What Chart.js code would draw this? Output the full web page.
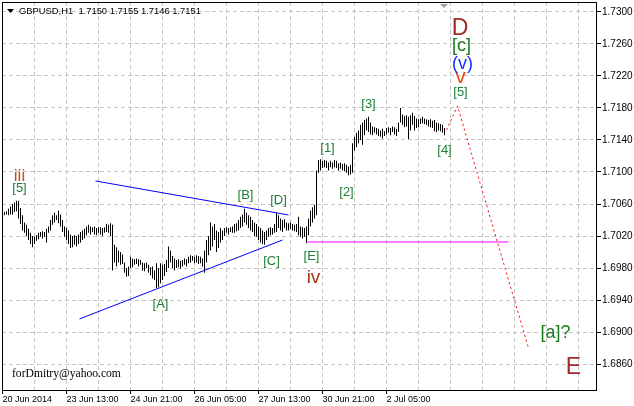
<!DOCTYPE html>
<html>
<head>
<meta charset="utf-8">
<script src="https://cdn.jsdelivr.net/npm/chart.js@4"></script>
<style>
html,body{margin:0;padding:0;background:#fff;}
canvas{display:block;}
</style>
</head>
<body>
<canvas id="c" width="634" height="406"></canvas>
<script>
// ---- Data (GBPUSD H1 bar highs/lows, oldest first) ----
const barHighs = [
1.7050,1.7051,1.7054,1.7057,1.7060,1.7062,1.7064,1.7064,1.7055,1.7046,
1.7037,1.7034,1.7029,1.7024,1.7020,1.7019,1.7021,1.7024,1.7025,1.7026,
1.7025,1.7029,1.7032,1.7040,1.7046,1.7049,1.7046,1.7052,1.7047,1.7040,
1.7032,1.7030,1.7027,1.7022,1.7020,1.7021,1.7020,1.7022,1.7025,1.7027,
1.7029,1.7032,1.7034,1.7032,1.7031,1.7032,1.7030,1.7031,1.7031,1.7030,
1.7031,1.7035,1.7034,1.7036,1.7034,1.7009,1.7006,1.7002,1.7000,1.6997,
1.6987,1.6980,1.6982,1.6994,1.6992,1.6991,1.6992,1.6991,1.6990,1.6987,
1.6986,1.6987,1.6984,1.6981,1.6982,1.6977,1.6986,1.6980,1.6986,1.6984,
1.6985,1.6990,1.7007,1.7002,1.6995,1.6992,1.6990,1.6991,1.6989,1.6990,
1.6992,1.6991,1.6994,1.6996,1.6995,1.6994,1.6996,1.6995,1.6994,1.6992,
1.7002,1.7015,1.7020,1.7037,1.7032,1.7035,1.7027,1.7025,1.7030,1.7027,
1.7030,1.7031,1.7030,1.7031,1.7032,1.7035,1.7036,1.7040,1.7044,1.7047,
1.7054,1.7049,1.7046,1.7044,1.7040,1.7037,1.7035,1.7032,1.7030,1.7027,
1.7025,1.7027,1.7030,1.7031,1.7030,1.7035,1.7049,1.7046,1.7042,1.7040,
1.7041,1.7037,1.7036,1.7037,1.7035,1.7034,1.7035,1.7044,1.7032,1.7031,
1.7030,1.7032,1.7042,1.7052,1.7056,1.7059,1.7102,1.7115,1.7116,1.7114,
1.7115,1.7114,1.7112,1.7114,1.7112,1.7115,1.7114,1.7111,1.7112,1.7110,
1.7111,1.7109,1.7107,1.7109,1.7136,1.7144,1.7149,1.7152,1.7159,1.7162,
1.7165,1.7167,1.7169,1.7162,1.7157,1.7156,1.7155,1.7154,1.7152,1.7154,
1.7151,1.7155,1.7156,1.7155,1.7157,1.7156,1.7154,1.7162,1.7180,1.7172,
1.7170,1.7171,1.7169,1.7171,1.7174,1.7170,1.7167,1.7166,1.7167,1.7169,
1.7167,1.7166,1.7165,1.7166,1.7164,1.7165,1.7162,1.7161,1.7160,1.7159,1.7155
];
const barLows = [
1.7046,1.7047,1.7046,1.7047,1.7047,1.7050,1.7051,1.7042,1.7035,1.7027,
1.7024,1.7020,1.7015,1.7010,1.7006,1.7010,1.7014,1.7016,1.7019,1.7017,
1.7019,1.7012,1.7024,1.7027,1.7034,1.7037,1.7040,1.7036,1.7032,1.7025,
1.7019,1.7015,1.7010,1.7005,1.7006,1.7009,1.7007,1.7010,1.7012,1.7015,
1.7017,1.7021,1.7024,1.7022,1.7025,1.7022,1.7021,1.7024,1.7022,1.7020,
1.7024,1.7025,1.7024,1.7020,1.6977,1.6987,1.6982,1.6987,1.6984,1.6985,
1.6974,1.6969,1.6970,1.6980,1.6981,1.6984,1.6985,1.6982,1.6984,1.6977,
1.6976,1.6980,1.6974,1.6971,1.6967,1.6965,1.6955,1.6956,1.6961,1.6965,
1.6970,1.6975,1.6980,1.6987,1.6980,1.6977,1.6980,1.6981,1.6979,1.6982,
1.6984,1.6982,1.6986,1.6987,1.6989,1.6986,1.6987,1.6985,1.6986,1.6982,
1.6974,1.6987,1.6996,1.7002,1.7007,1.7015,1.7000,1.7005,1.7012,1.7015,
1.7020,1.7024,1.7022,1.7025,1.7024,1.7024,1.7026,1.7027,1.7030,1.7032,
1.7037,1.7034,1.7030,1.7027,1.7025,1.7020,1.7019,1.7015,1.7012,1.7010,
1.7009,1.7015,1.7019,1.7021,1.7022,1.7024,1.7025,1.7030,1.7027,1.7025,
1.7030,1.7027,1.7027,1.7029,1.7027,1.7026,1.7025,1.7021,1.7019,1.7017,
1.7019,1.7011,1.7021,1.7032,1.7037,1.7042,1.7046,1.7099,1.7102,1.7105,
1.7106,1.7105,1.7102,1.7106,1.7104,1.7106,1.7105,1.7102,1.7104,1.7102,
1.7101,1.7099,1.7096,1.7097,1.7099,1.7127,1.7131,1.7136,1.7140,1.7134,
1.7146,1.7152,1.7150,1.7147,1.7146,1.7149,1.7147,1.7145,1.7144,1.7142,
1.7145,1.7147,1.7149,1.7146,1.7150,1.7147,1.7145,1.7150,1.7162,1.7159,
1.7156,1.7157,1.7141,1.7152,1.7159,1.7152,1.7155,1.7156,1.7160,1.7161,
1.7160,1.7159,1.7157,1.7156,1.7155,1.7151,1.7150,1.7152,1.7151,1.7149,1.7146
];

// time-axis tick labels (bar index -> text)
const timeTickIndex = [0, 32, 64, 96, 128, 160, 192];
const timeTickLabels = ["20 Jun 2014","23 Jun 13:00","24 Jun 21:00","26 Jun 05:00","27 Jun 13:00","30 Jun 21:00","2 Jul 05:00"];
const priceTicks = [1.6860,1.6900,1.6940,1.6980,1.7020,1.7060,1.7100,1.7140,1.7180,1.7220,1.7260,1.7300];

// drawn objects (bar index, price)
const triangleUpper = [{x:46.5, y:1.70888},{x:143, y:1.70463}];
const triangleLower = [{x:38.5, y:1.69163},{x:140, y:1.70150}];
const levelLine     = [{x:152.5, y:1.70125},{x:253, y:1.70125}];
const forecastPath  = [{x:222, y:1.71525},{x:227.5, y:1.71825},{x:263, y:1.68800}];

const waveText  = ["iii","[5]","[A]","[B]","[C]","[D]","[E]","iv","[1]","[2]","[3]","[4]","[5]","v","(v)","[c]","D","[a]?","E"];
const waveIndex = [8.5, 8.5, 79, 121.5, 134.5, 138, 154.5, 155.5, 162.5, 172, 183, 221, 229, 229, 230, 229.5, 228.8, 276.5, 285.5];
const wavePrice = [1.70945,1.70790,1.69340,1.70710,1.69880,1.70650,1.69940,1.69680,1.71290,1.70750,1.71850,1.71270,1.71990,1.72190,1.72350,1.72570,1.72790,1.68990,1.68560];

const titleText = "GBPUSD,H1  1.7150 1.7155 1.7146 1.7151";
const watermark = "forDmitry@yahoo.com";

// ---- styles ----
const GREEN = "#1d7f36";
const waveStyle = {
  "iii": {c:"#c8501e", f:"17px 'Liberation Sans'"},
  "iv":  {c:"#a8321e", f:"19px 'Liberation Sans'"},
  "v":   {c:"#e04a18", f:"21px 'Liberation Sans'"},
  "(v)": {c:"#1030ff", f:"18px 'Liberation Sans'"},
  "[c]": {c:"#1a7a1a", f:"18px 'Liberation Sans'"},
  "D":   {c:"#a52a2a", f:"23px 'Liberation Sans'"},
  "E":   {c:"#a52a2a", f:"23px 'Liberation Sans'"},
  "[a]?":{c:"#1a7a1a", f:"18px 'Liberation Sans'"}
};

const bars = barHighs.map((h, k) => ({x: k + 1, y: [barLows[k], h]}));

const overlay = {
  id: 'overlay',
  afterDatasetsDraw(chart) {
    const {ctx, chartArea: a, scales: {x, y}} = chart;
    ctx.save();
    ctx.textAlign = 'center';
    ctx.textBaseline = 'middle';
    waveText.forEach((t, k) => {
      const st = waveStyle[t] ? waveStyle[t] : {c: GREEN, f: "13px 'Liberation Sans'"};
      ctx.fillStyle = st.c;
      ctx.font = st.f;
      ctx.fillText(t, x.getPixelForValue(waveIndex[k]), y.getPixelForValue(wavePrice[k]));
    });
    // title
    ctx.textAlign = 'left';
    ctx.fillStyle = '#000';
    ctx.font = "9.4px 'Liberation Sans'";
    ctx.fillText(titleText, a.left + 17, a.top + 9);
    ctx.beginPath();
    ctx.moveTo(a.left + 5, a.top + 7); ctx.lineTo(a.left + 12, a.top + 7); ctx.lineTo(a.left + 8.5, a.top + 11);
    ctx.closePath(); ctx.fill();
    // chart shift marker
    ctx.fillStyle = '#a0a0a0';
    ctx.beginPath();
    ctx.moveTo(440, a.top + 2); ctx.lineTo(448, a.top + 2); ctx.lineTo(444, a.top + 6);
    ctx.closePath(); ctx.fill();
    // watermark
    ctx.fillStyle = '#000';
    ctx.font = "11.6px 'Liberation Serif'";
    ctx.fillText(watermark, a.left + 10, a.bottom - 16);
    // frame
    ctx.strokeStyle = '#000';
    ctx.lineWidth = 1;
    ctx.strokeRect(a.left + 0.5, a.top + 0.5, a.right - a.left - 1, a.bottom - a.top);
    ctx.restore();
  }
};

const xTickVals = [];
for (let v = 0; v <= 288; v += 16) xTickVals.push(v);

new Chart(document.getElementById('c'), {
  type: 'bar',
  data: {
    datasets: [
      {type:'line', data: triangleUpper, borderColor:'#0000ff', borderWidth:1, pointRadius:0, tension:0, order:1},
      {type:'line', data: triangleLower, borderColor:'#0000ff', borderWidth:1, pointRadius:0, tension:0, order:1},
      {type:'line', data: levelLine, borderColor:'#ff00ff', borderWidth:1, pointRadius:0, tension:0, order:1},
      {type:'line', data: forecastPath, borderColor:'#ff0000', borderWidth:1, borderDash:[2,3], pointRadius:0, tension:0, order:1},
      {type:'bar', data: bars, backgroundColor:'#000', borderWidth:0, barThickness:1, inflateAmount:0, grouped:false, order:2}
    ]
  },
  options: {
    responsive: false,
    animation: false,
    devicePixelRatio: 1,
    layout: {padding: {left: 2, top: 2, right: 0, bottom: 0}},
    plugins: {legend: {display: false}, tooltip: {enabled: false}, title: {display: false}},
    scales: {
      x: {
        type: 'linear', min: -0.25, max: 297.25, offset: false,
        afterBuildTicks: s => { s.ticks = xTickVals.map(v => ({value: v})); },
        afterFit: s => { s.height = 16; s.paddingLeft = 0; s.paddingRight = 0; },
        ticks: {
          autoSkip: false, maxRotation: 0, minRotation: 0, align: 'start', padding: 0,
          color: '#000', font: {family: "'Liberation Sans'", size: 9},
          callback: v => { const k = timeTickIndex.indexOf(v); return k >= 0 ? timeTickLabels[k] : ''; }
        },
        grid: {
          offset: false, color: '#c4c4c4', lineWidth: 1, tickLength: 4, tickBorderDash: [],
          tickColor: c => (c.tick && timeTickIndex.indexOf(c.tick.value) >= 0) ? '#000' : 'rgba(0,0,0,0)'
        },
        border: {display: false, dash: [4, 3]}
      },
      y: {
        type: 'linear', position: 'right', min: 1.68275, max: 1.73125,
        afterBuildTicks: s => { s.ticks = priceTicks.map(v => ({value: v})); },
        afterFit: s => { s.width = 37; s.paddingTop = 0; s.paddingBottom = 0; },
        ticks: {
          padding: 1, color: '#000', font: {family: "'Liberation Sans'", size: 10},
          callback: v => Number(v).toFixed(4)
        },
        grid: {color: '#c4c4c4', lineWidth: 1, tickLength: 4, tickColor: '#000', tickBorderDash: []},
        border: {display: false, dash: [4, 3]}
      }
    }
  },
  plugins: [overlay]
});
</script>
</body>
</html>
